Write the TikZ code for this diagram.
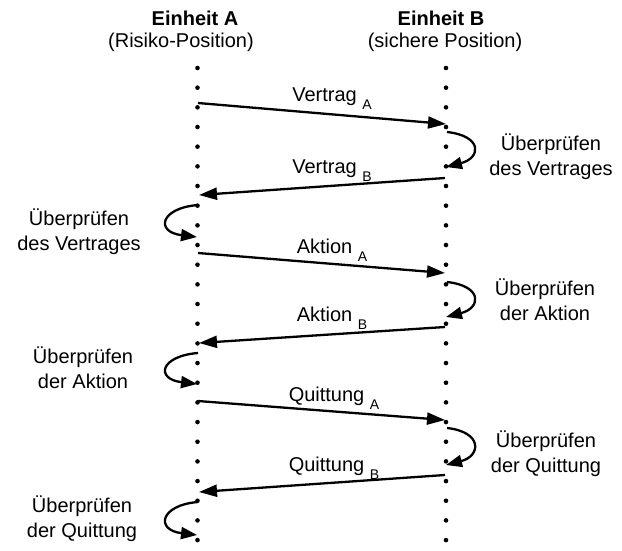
\documentclass[tikz,border=0pt]{standalone}
\usepackage{fontspec}
\setmainfont{Liberation Sans}
\usetikzlibrary{arrows.meta,calc}
% lowered, smaller index after a message name
\newcommand{\msgidx}[1]{\raisebox{-8pt}{\fontsize{14}{14}\selectfont #1}}
\begin{document}
\begin{tikzpicture}[x=1pt,y=-1pt,
  lifeline/.style={line width=4.6pt, line cap=round, dash pattern=on 0pt off 19.67pt},
  msg/.style={line width=2.3pt, -{Triangle[length=18pt,width=12pt]}},
  check/.style={line width=2.3pt, -{Triangle[length=16pt,width=12pt]}},
  lbl/.style={font=\fontsize{20}{25}\selectfont, inner sep=0pt, anchor=base},
  side/.style={lbl, align=center},
  head/.style={lbl, font=\fontsize{20}{25}\selectfont\bfseries},
]
\useasboundingbox (0,0) rectangle (622,550);

% column headings
\node[head] (headA) at (195,25) {Einheit A};
\node[lbl]  (roleA) at (181,47) {(Risiko-Position)};
\node[head] (headB) at (441,25) {Einheit B};
\node[lbl]  (roleB) at (445,47) {(sichere Position)};

% lifelines
\coordinate (Atop) at (197.5,68);
\coordinate (Abot) at (197.5,541);
\coordinate (Btop) at (446,68);
\coordinate (Bbot) at (446,541);
\draw[lifeline] (Atop) -- (Abot);
\draw[lifeline] (Btop) -- (Bbot);

% message end points
\coordinate (m1s) at (198,103);  \coordinate (m1e) at (446,124);
\coordinate (m2s) at (445,178);  \coordinate (m2e) at (199,195);
\coordinate (m3s) at (198,253);  \coordinate (m3e) at (445,273);
\coordinate (m4s) at (445,327);  \coordinate (m4e) at (199,343);
\coordinate (m5s) at (198,401);  \coordinate (m5e) at (445,420);
\coordinate (m6s) at (445,475);  \coordinate (m6e) at (199,492);

% self-check end points
\coordinate (r1s) at (447,132);  \coordinate (r1e) at (446,167);
\coordinate (r2s) at (447,282);  \coordinate (r2e) at (446,317);
\coordinate (r3s) at (447,428);  \coordinate (r3e) at (446,465);
\coordinate (l1s) at (198,205);  \coordinate (l1e) at (197,237);
\coordinate (l2s) at (198,353);  \coordinate (l2e) at (197,384);
\coordinate (l3s) at (198,502);  \coordinate (l3e) at (197,535);

% messages
\draw[msg] (m1s) -- (m1e);
\draw[msg] (m2s) -- (m2e);
\draw[msg] (m3s) -- (m3e);
\draw[msg] (m4s) -- (m4e);
\draw[msg] (m5s) -- (m5e);
\draw[msg] (m6s) -- (m6e);

\node[lbl] (t1) at (332,101) {Vertrag \msgidx{A}};
\node[lbl] (t2) at (332,173) {Vertrag \msgidx{B}};
\node[lbl] (t3) at (332,253) {Aktion \msgidx{A}};
\node[lbl] (t4) at (332,321) {Aktion \msgidx{B}};
\node[lbl] (t5) at (334,401) {Quittung \msgidx{A}};
\node[lbl] (t6) at (334,471) {Quittung \msgidx{B}};

% self-checks on B
\draw[check] (r1s) .. controls ($(r1s)+(36,4)$) and ($(r1e)+(35,-9)$) .. (r1e);
\draw[check] (r2s) .. controls ($(r2s)+(36,4)$) and ($(r2e)+(35,-9)$) .. (r2e);
\draw[check] (r3s) .. controls ($(r3s)+(36,4)$) and ($(r3e)+(35,-9)$) .. (r3e);

% self-checks on A
\draw[check] (l1s) .. controls ($(l1s)+(-38,3)$) and ($(l1e)+(-42,-5)$) .. (l1e);
\draw[check] (l2s) .. controls ($(l2s)+(-38,3)$) and ($(l2e)+(-42,-5)$) .. (l2e);
\draw[check] (l3s) .. controls ($(l3s)+(-38,3)$) and ($(l3e)+(-42,-5)$) .. (l3e);

% the base anchor of a two-line node sits on its second line
\node[side] (c1) at (551,175) {Überprüfen\\des Vertrages};
\node[side] (c2) at (545,320) {Überprüfen\\der Aktion};
\node[side] (c3) at (546,472) {Überprüfen\\der Quittung};
\node[side] (c4) at (79,250)  {Überprüfen\\des Vertrages};
\node[side] (c5) at (83,388)  {Überprüfen\\der Aktion};
\node[side] (c6) at (82,537)  {Überprüfen\\der Quittung};
\end{tikzpicture}
\end{document}
